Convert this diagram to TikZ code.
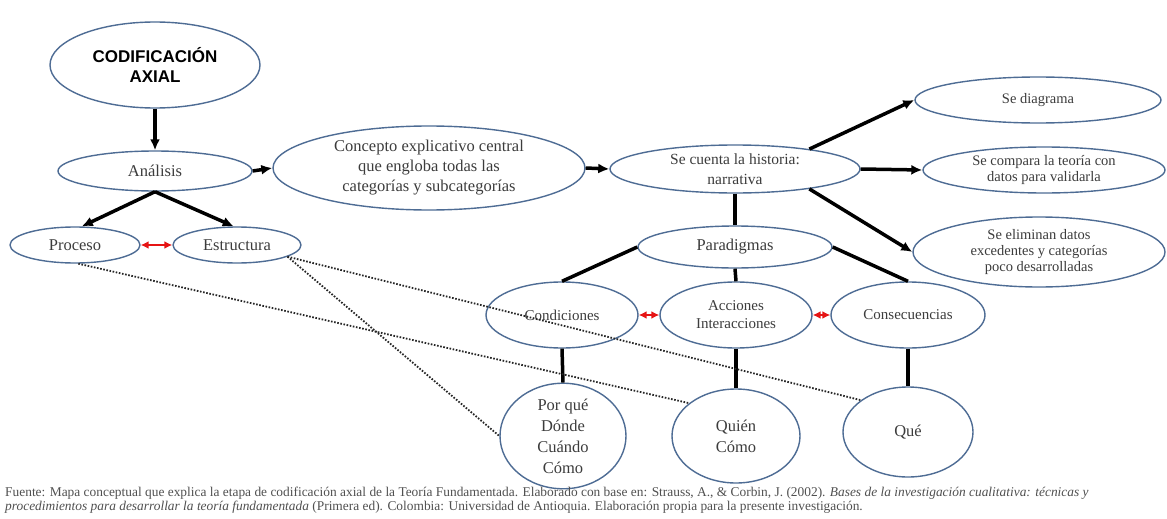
\documentclass[tikz,border=0pt]{standalone}
\usepackage{fontspec}
\setmainfont{Liberation Serif}
\newfontfamily\arialfont{Liberation Sans}
\usetikzlibrary{shapes.geometric,arrows.meta}
\definecolor{ellblue}{RGB}{78,108,148}
\definecolor{txtgray}{RGB}{60,60,60}
\definecolor{capgray}{RGB}{80,80,80}
\definecolor{arrred}{RGB}{230,20,20}
\begin{document}
\begin{tikzpicture}[x=1pt,y=-1pt,
  ell/.style={ellipse, draw=ellblue, line width=1.4pt, inner sep=0pt, align=center,
    text=txtgray, font=\fontsize{16.5}{20}\selectfont},
  smalltxt/.style={font=\fontsize{14.5}{16}\selectfont},
  midtxt/.style={font=\fontsize{15}{18}\selectfont},
  setxt/.style={font=\fontsize{15.5}{20}\selectfont},
  tallt/.style={font=\fontsize{16.5}{21}\selectfont},
  conn/.style={line width=3.5pt, black},
  arr/.style={conn, -{Latex[length=11pt,width=10pt]}},
  dots/.style={line width=1.8pt, dash pattern=on 1.6pt off 1.6pt, black!85},
  redarr/.style={line width=1.8pt, arrred, {Latex[length=8pt,width=8pt]}-{Latex[length=8pt,width=8pt]}}
]
\useasboundingbox (0,0) rectangle (1167,519);
\fill[white] (0,0) rectangle (1167,519);

% nodes
\node[ell, minimum width=210pt, minimum height=86pt, text=black,
  font=\arialfont\bfseries\fontsize{17}{20}\selectfont] (cod) at (155,65) {CODIFICACIÓN\\AXIAL};
\node[ell, minimum width=194pt, minimum height=40pt] (ana) at (155,171) {Análisis};
\node[ell, minimum width=312pt, minimum height=84pt] (conc) at (429,168)
  {Concepto explicativo central\\que engloba todas las\\categorías y subcategorías};
\node[ell, minimum width=250pt, minimum height=48pt, setxt] (se) at (735,169)
  {Se cuenta la historia:\\narrativa};
\node[ell, minimum width=246pt, minimum height=46pt, smalltxt] (diag) at (1038,100) {Se diagrama};
\node[ell, minimum width=242pt, minimum height=46pt, smalltxt] (comp) at (1044,170)
  {Se compara la teoría con\\datos para validarla};
\node[ell, minimum width=252pt, minimum height=70pt, smalltxt] (elim) at (1039,252)
  {Se eliminan datos\\excedentes y categorías\\poco desarrolladas};
\node[ell, minimum width=130pt, minimum height=36pt] (proc) at (75,245) {Proceso};
\node[ell, minimum width=128pt, minimum height=36pt] (estr) at (237,245) {Estructura};
\node[ell, minimum width=194pt, minimum height=42pt] (par) at (735,247) {Paradigmas};
\node[ell, minimum width=152pt, minimum height=66pt, midtxt] (cond) at (562,315) {Condiciones};
\node[ell, minimum width=152pt, minimum height=66pt, midtxt] (acc) at (736,315) {Acciones\\Interacciones};
\node[ell, minimum width=154pt, minimum height=66pt, midtxt] (cons) at (908,315) {Consecuencias};
\node[ell, minimum width=126pt, minimum height=96pt, tallt] (por) at (563,436) {Por qué\\Dónde\\Cuándo\\Cómo};
\node[ell, minimum width=128pt, minimum height=94pt, tallt] (quien) at (736,436) {Quién\\Cómo};
\node[ell, minimum width=130pt, minimum height=90pt, tallt] (que) at (908,432) {Qué};

% arrows
\draw[arr] (cod.south) -- (ana.north);
\draw[arr] (ana.south) -- (proc.70);
\draw[arr] (ana.south) -- (estr.100);
\draw[arr] (ana.east) -- (conc.west);
\draw[arr] (conc.east) -- (se.west);
\draw[arr] (se.15) -- (diag.west);
\draw[arr] (se.east) -- (comp.west);
\draw[arr] (se.-15) -- (elim.west);

% plain connectors
\draw[conn] (se.south) -- (par.north);
\draw[conn] (par.west) -- (cond.north);
\draw[conn] (par.south) -- (acc.north);
\draw[conn] (par.east) -- (cons.north);
\draw[conn] (cond.south) -- (por.north);
\draw[conn] (acc.south) -- (quien.north);
\draw[conn] (cons.south) -- (que.north);

% red double arrows
\draw[redarr] (proc.east) -- (estr.west);
\draw[redarr] (cond.east) -- (acc.west);
\draw[redarr] (acc.east) -- (cons.west);

% dotted links
\draw[dots] (proc.-80) -- (quien.145);
\draw[dots] (estr.-13) -- (que.146);
\draw[dots] (estr.-13) -- (por.west);

% caption
\node[anchor=north west, align=left, inner sep=0pt, text=capgray,
  font=\fontsize{13.4}{13.5}\selectfont] (cap) at (5,487)
  {Fuente: Mapa conceptual que explica la etapa de codificación axial de la Teoría Fundamentada. Elaborado con base en: Strauss, A., \& Corbin, J. (2002). \textit{Bases de la investigación cualitativa: técnicas y}\\
   \textit{procedimientos para desarrollar la teoría fundamentada} (Primera ed). Colombia: Universidad de Antioquia. Elaboración propia para la presente investigación.};
\end{tikzpicture}
\end{document}
